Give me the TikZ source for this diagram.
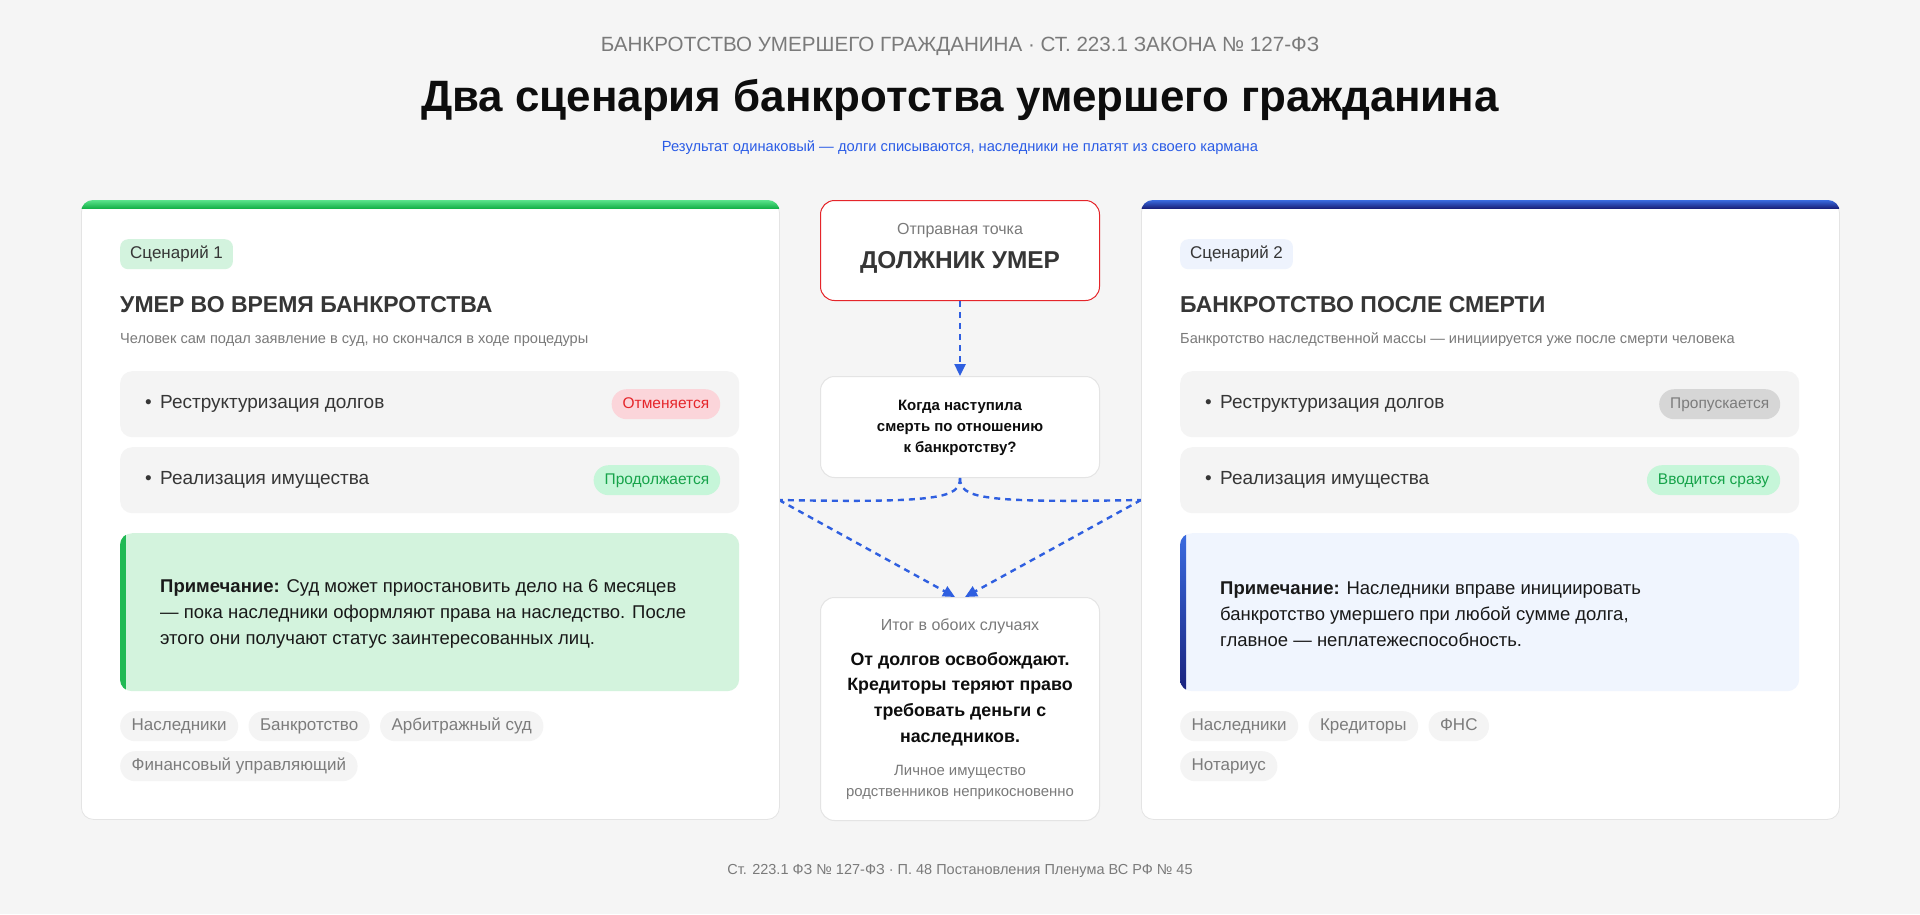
\documentclass[tikz,border=0pt]{standalone}
\usepackage{fontspec}
\setmainfont{Liberation Sans}
\usetikzlibrary{
    arrows.meta,
    positioning
}

\definecolor{pagebg}{HTML}{F5F5F5}
\definecolor{cardline}{HTML}{E4E4E4}
\definecolor{rowfill}{HTML}{F4F4F4}
\definecolor{heading}{HTML}{363636}
\definecolor{subgray}{HTML}{7A7A7A}
\definecolor{chiptext}{HTML}{7C7C7C}
\definecolor{flowblue}{HTML}{2F5FE0}
\definecolor{linkblue}{HTML}{2B5CE6}
\definecolor{startred}{HTML}{E5252A}
\definecolor{pinkfill}{HTML}{FBD5DA}
\definecolor{okfill}{HTML}{C6F6D9}
\definecolor{oktext}{HTML}{16A34A}
\definecolor{skipfill}{HTML}{D6D6D6}
\definecolor{badgeA}{HTML}{D3F3DE}
\definecolor{badgeB}{HTML}{EEF3FD}
\definecolor{noteA}{HTML}{D3F3DD}
\definecolor{noteB}{HTML}{F0F5FE}
\definecolor{greenhi}{HTML}{5BE38C}
\definecolor{greenlo}{HTML}{16B24A}
\definecolor{bluehi}{HTML}{3A6BE0}
\definecolor{bluelo}{HTML}{1A237E}

\tikzset{
    card/.style={draw=cardline, fill=white, rounded corners=12pt, line width=0.8pt,
        minimum width=698pt, minimum height=619pt, anchor=north west, inner sep=0pt},
    row/.style={fill=rowfill, rounded corners=12pt, minimum width=619pt,
        minimum height=66pt, anchor=north west, inner sep=0pt},
    note/.style={rounded corners=12pt, minimum width=619pt, minimum height=158pt,
        anchor=north west, inner sep=0pt},
    rowtext/.style={anchor=west, inner sep=0pt, text=heading,
        font=\fontsize{19}{22}\selectfont},
    notetext/.style={anchor=west, inner sep=0pt, align=left, text=black!90,
        font=\fontsize{18.5}{26}\selectfont},
    pill/.style={rounded corners=15pt, minimum height=30pt, inner xsep=11pt, inner ysep=0pt,
        text height=11.5pt, text depth=3.5pt, anchor=east, font=\fontsize{15.5}{18}\selectfont},
    chip/.style={fill=rowfill, rounded corners=15pt, minimum height=30pt, inner xsep=11.5pt,
        inner ysep=0pt, text height=12.5pt, text depth=3.8pt,
        anchor=north west, text=chiptext, font=\fontsize{17}{20}\selectfont},
    badge/.style={rounded corners=8pt, minimum height=30pt, inner xsep=10pt, inner ysep=0pt,
        text height=12.5pt, text depth=3.8pt,
        anchor=north west, text=heading, font=\fontsize{17}{20}\selectfont},
    cardhead/.style={anchor=west, inner sep=0pt, text=heading,
        font=\bfseries\fontsize{23}{28}\selectfont},
    carddesc/.style={anchor=west, inner sep=0pt, text=subgray,
        font=\fontsize{14.6}{18}\selectfont},
    midbox/.style={fill=white, rounded corners=14pt, minimum width=279pt,
        anchor=north, inner sep=0pt, line width=1pt},
    flow/.style={draw=flowblue, line width=2.4pt, dash pattern=on 6pt off 5pt},
    tip/.style={-{Triangle[length=12pt,width=11pt]}}
}

\begin{document}
\begin{tikzpicture}[x=1pt,y=-1pt]

\fill[pagebg] (0,0) rectangle (1920,914);
\useasboundingbox (0,0) rectangle (1920,914);

\node[font=\fontsize{20.6}{24}\selectfont, text=subgray] (kicker) at (960,46)
    {БАНКРОТСТВО УМЕРШЕГО ГРАЖДАНИНА · СТ. 223.1 ЗАКОНА № 127-ФЗ};
\node[font=\bfseries\fontsize{43.9}{50}\selectfont, text=black!95] (title) at (960,100)
    {Два сценария банкротства умершего гражданина};
\node[font=\fontsize{14.7}{18}\selectfont, text=linkblue] (subtitle) at (960,148)
    {Результат одинаковый — долги списываются, наследники не платят из своего кармана};

\node[midbox, draw=startred, minimum height=100pt] (start) at (960,200) {};
\node[font=\fontsize{16}{18}\selectfont, text=subgray] (startcap) at (960,231) {Отправная точка};
\node[font=\bfseries\fontsize{24.4}{28}\selectfont, text=heading] (startlbl) at (960,262) {ДОЛЖНИК УМЕР};

\node[midbox, draw=cardline, minimum height=101pt] (quest) at (960,376) {};
\node[align=center, font=\bfseries\fontsize{15}{21}\selectfont, text=black!95] (questlbl) at (960,428)
    {Когда наступила\\смерть по отношению\\к банкротству?};

\node[midbox, draw=cardline, minimum height=223pt] (result) at (960,597) {};
\node[font=\fontsize{16}{18}\selectfont, text=subgray] (resultcap) at (960,626) {Итог в обоих случаях};
\node[align=center, font=\bfseries\fontsize{17.8}{25.7}\selectfont, text=black!95] (resultlbl) at (960,699)
    {От долгов освобождают.\\Кредиторы теряют право\\требовать деньги с\\наследников.};
\node[align=center, font=\fontsize{14.9}{21}\selectfont, text=subgray] (resultnote) at (960,782)
    {Личное имущество\\родственников неприкосновенно};

\coordinate (jl) at (779,500);
\coordinate (jr) at (1141,500);

\draw[flow,tip] (start) -- (quest);
\draw[flow] (quest.south) .. controls (960,498) and (940,503) .. (jl);
\draw[flow] (quest.south) .. controls (960,498) and (980,503) .. (jr);
\draw[flow,tip] (jl) -- ([xshift=-5pt]result.north);
\draw[flow,tip] (jr) -- ([xshift=5pt]result.north);

\node[card] (card1) at (81,200) {};
\begin{scope}
\clip[rounded corners=12pt] (card1.north west) rectangle (card1.south east);
\shade[top color=greenhi, bottom color=greenlo] (card1.north west) rectangle ([yshift=-8pt]card1.north east);
\end{scope}

\node[badge, fill=badgeA] (badge1) at (120,239) {Сценарий 1};
\node[cardhead] (head1) at (120,305) {УМЕР ВО ВРЕМЯ БАНКРОТСТВА};
\node[carddesc] (desc1) at (120,340) {Человек сам подал заявление в суд, но скончался в ходе процедуры};

\node[row] (row1a) at (120,371) {};
\node[rowtext] at ([xshift=25pt]row1a.west) {•};
\node[rowtext] at ([xshift=40pt]row1a.west) {Реструктуризация долгов};
\node[pill, fill=pinkfill, text=startred] (pill1a) at ([xshift=-19pt]row1a.east) {Отменяется};
\node[row] (row1b) at (120,447) {};
\node[rowtext] at ([xshift=25pt]row1b.west) {•};
\node[rowtext] at ([xshift=40pt]row1b.west) {Реализация имущества};
\node[pill, fill=okfill, text=oktext] (pill1b) at ([xshift=-19pt]row1b.east) {Продолжается};

\node[note, fill=noteA] (note1) at (120,533) {};
\begin{scope}
\clip[rounded corners=12pt] (note1.north west) rectangle (note1.south east);
\fill[greenlo!85!greenhi] (note1.north west) rectangle ([xshift=6pt]note1.south west);
\end{scope}
\node[notetext] (notetext1) at (160,614)
    {\textbf{Примечание:} Суд может приостановить дело на 6 месяцев\\— пока наследники оформляют права на наследство. После\\этого они получают статус заинтересованных лиц.};

\node[chip] (chip1a) at (120,711) {Наследники};
\node[chip, right=10pt of chip1a] (chip1b) {Банкротство};
\node[chip, right=10pt of chip1b] (chip1c) {Арбитражный суд};
\node[chip] (chip1d) at (120,751) {Финансовый управляющий};

\node[card] (card2) at (1141,200) {};
\begin{scope}
\clip[rounded corners=12pt] (card2.north west) rectangle (card2.south east);
\shade[top color=bluehi, bottom color=bluelo] (card2.north west) rectangle ([yshift=-8pt]card2.north east);
\end{scope}

\node[badge, fill=badgeB] (badge2) at (1180,239) {Сценарий 2};
\node[cardhead] (head2) at (1180,305) {БАНКРОТСТВО ПОСЛЕ СМЕРТИ};
\node[carddesc] (desc2) at (1180,340) {Банкротство наследственной массы — инициируется уже после смерти человека};

\node[row] (row2a) at (1180,371) {};
\node[rowtext] at ([xshift=25pt]row2a.west) {•};
\node[rowtext] at ([xshift=40pt]row2a.west) {Реструктуризация долгов};
\node[pill, fill=skipfill, text=chiptext] (pill2a) at ([xshift=-19pt]row2a.east) {Пропускается};
\node[row] (row2b) at (1180,447) {};
\node[rowtext] at ([xshift=25pt]row2b.west) {•};
\node[rowtext] at ([xshift=40pt]row2b.west) {Реализация имущества};
\node[pill, fill=okfill, text=oktext] (pill2b) at ([xshift=-19pt]row2b.east) {Вводится сразу};

\node[note, fill=noteB] (note2) at (1180,533) {};
\begin{scope}
\clip[rounded corners=12pt] (note2.north west) rectangle (note2.south east);
\shade[top color=bluehi, bottom color=bluelo] (note2.north west) rectangle ([xshift=6pt]note2.south west);
\end{scope}
\node[notetext] (notetext2) at (1220,614)
    {\textbf{Примечание:} Наследники вправе инициировать\\банкротство умершего при любой сумме долга,\\главное — неплатежеспособность.};

\node[chip] (chip2a) at (1180,711) {Наследники};
\node[chip, right=10pt of chip2a] (chip2b) {Кредиторы};
\node[chip, right=10pt of chip2b] (chip2c) {ФНС};
\node[chip] (chip2d) at (1180,751) {Нотариус};

\node[font=\fontsize{14.5}{18}\selectfont, text=subgray] (footer) at (960,871)
    {Ст. 223.1 ФЗ № 127-ФЗ · П. 48 Постановления Пленума ВС РФ № 45};

\end{tikzpicture}
\end{document}
